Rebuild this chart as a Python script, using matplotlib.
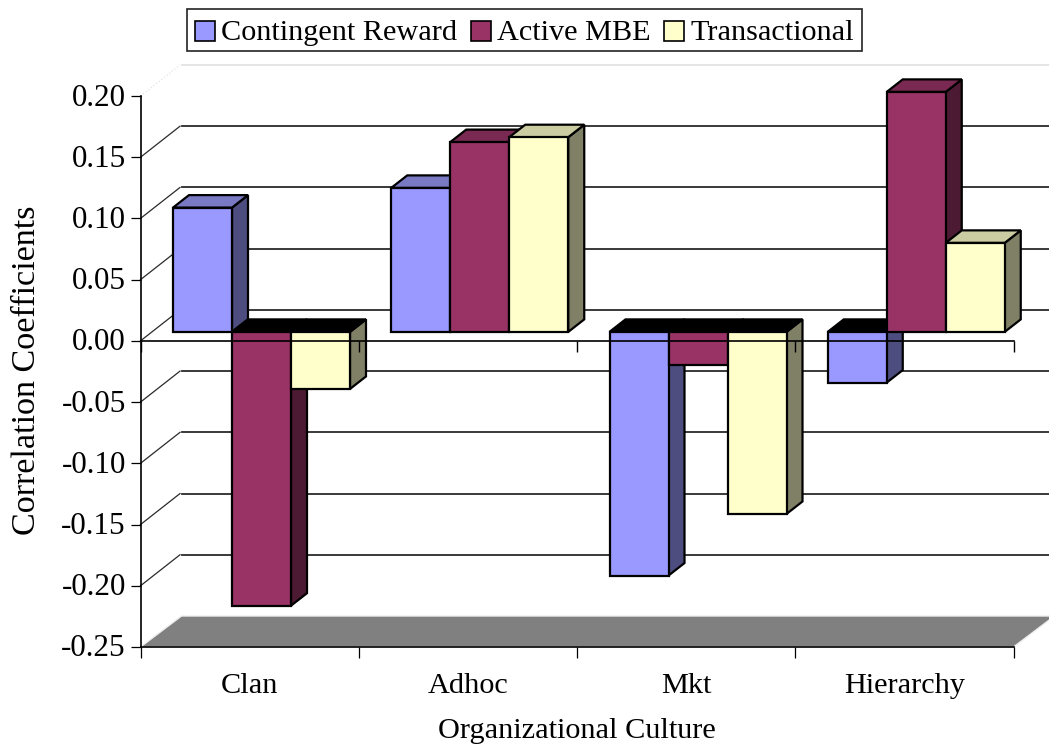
import matplotlib
matplotlib.use("Agg")
import matplotlib.pyplot as plt
from matplotlib.patches import Polygon, Patch
from matplotlib.transforms import ScaledTranslation

plt.rcParams['font.family'] = ['Liberation Serif', 'DejaVu Serif']

categories = ["Clan", "Adhoc", "Mkt", "Hierarchy"]
series_names = ["Contingent Reward", "Active MBE", "Transactional"]
contingent_reward = [0.1015, 0.1176, -0.199, -0.0414]
active_mbe = [-0.2236, 0.155, -0.0272, 0.196]
transactional = [-0.0466, 0.159, -0.1487, 0.0727]
y_ticks = [0.20, 0.15, 0.10, 0.05, 0.00, -0.05, -0.10, -0.15, -0.20, -0.25]

front_colors = ["#9999FF", "#993366", "#FFFFCC"]
side_colors = ["#4D4D80", "#4D1A33", "#808066"]
top_colors = ["#7A7AC4", "#7A2952", "#CCCCA3"]

W, H = 1049, 746
# front plane of the fake 3d box, in pixels
left, right, top, bottom = 140.5, 1013.5, 96.0, 647.0
fig = plt.figure(figsize=(W / 100, H / 100), dpi=100)
ax = fig.add_axes([left / W, 1 - bottom / H, (right - left) / W, (bottom - top) / H])
ax.set_xlim(0, 4)
ax.set_ylim(-0.25, 0.20)

# pixel sizes to data units
px_x = 4 / (right - left)
px_y = 0.45 / (bottom - top)
depth_x, depth_y = 41 * px_x, 31 * px_y
shift_y = 9 * px_y
bar_dx, bar_dy = 16 * px_x, 12.5 * px_y
bar_w = 59 * px_x
group_start = 32.5 * px_x

# floor
ax.add_patch(Polygon([(0, -0.25), (depth_x, -0.25 + depth_y), (4 + depth_x, -0.25 + depth_y), (4, -0.25)],
                     closed=True, facecolor="#808080", edgecolor="#EEEEEE", lw=1.0, clip_on=False, zorder=1))

# grid on the walls
for v in y_ticks[:-1]:
    col = "#E3E3E3" if v == 0.20 else "#2A2A2A"
    ls = ":" if v == 0.20 else "-"
    ax.plot([0, depth_x - 1.5 * px_x], [v, v + depth_y], color=col, lw=0.9, ls=ls, clip_on=False, zorder=1)
    ax.plot([depth_x, 4 + depth_x], [v + depth_y, v + depth_y], color=col, lw=1.3, clip_on=False, zorder=1)

# bars, left to right so the next one covers the side of the previous one
all_values = [contingent_reward, active_mbe, transactional]
z = 2
for c in range(len(categories)):
    for s in range(len(series_names)):
        val = all_values[s][c]
        x0 = c + group_start + s * bar_w
        x1 = x0 + bar_w
        y0 = shift_y
        y1 = val + shift_y
        hi = max(y0, y1)
        lo = min(y0, y1)
        top_col = top_colors[s] if val > 0 else "black"
        ax.add_patch(Polygon([(x1, lo), (x1 + bar_dx, lo + bar_dy), (x1 + bar_dx, hi + bar_dy), (x1, hi)],
                             closed=True, facecolor=side_colors[s], edgecolor="black", lw=1.6, clip_on=False, zorder=z))
        ax.add_patch(Polygon([(x0, hi), (x0 + bar_dx, hi + bar_dy), (x1 + bar_dx, hi + bar_dy), (x1, hi)],
                             closed=True, facecolor=top_col, edgecolor="black", lw=1.6, clip_on=False, zorder=z))
        ax.add_patch(Polygon([(x0, lo), (x0, hi), (x1, hi), (x1, lo)],
                             closed=True, facecolor=front_colors[s], edgecolor="black", lw=1.6, clip_on=False, zorder=z))
        z += 1

# zero line with its ticks, over the bars
ax.axhline(0, color="black", lw=1.2, zorder=50, clip_on=False)
ax.vlines(range(5), 0, -11 * px_y, color="black", lw=1.0, zorder=50, clip_on=False)

for side in ["top", "right"]:
    ax.spines[side].set_visible(False)
for side in ["left", "bottom"]:
    ax.spines[side].set_linewidth(1.2)
    ax.spines[side].set_zorder(50)

ax.set_yticks(y_ticks)
ax.set_yticklabels([f"{v:.2f}" for v in y_ticks], fontsize=22.4)
ax.tick_params(axis="y", length=7.5, width=0.9, pad=3)
for lab in ax.get_yticklabels():
    lab.set_transform(lab.get_transform() + ScaledTranslation(0, 1.5 / 100, fig.dpi_scale_trans))
ax.set_xticks(range(5))
ax.set_xticklabels([])
ax.tick_params(axis="x", which="major", length=8, width=0.9)
ax.set_xticks([0.5, 1.5, 2.5, 3.5], minor=True)
ax.set_xticklabels(categories, minor=True, fontsize=21.8)
ax.tick_params(axis="x", which="minor", length=0, pad=18.7)

fig.text(27 / W, 1 - 370 / H, "Correlation Coefficients", rotation=90, fontsize=24.6, ha="center", va="center")
fig.text(577 / W, 1 - 731 / H, "Organizational Culture", fontsize=21.8, ha="center", va="center")

handles = [Patch(facecolor=front_colors[i], edgecolor="black", lw=1.2) for i in range(3)]
leg = fig.legend(handles, series_names, loc="center", bbox_to_anchor=(524.5 / W, 1 - 30 / H), ncol=3,
                 fontsize=21.8, frameon=True, fancybox=False, framealpha=1, edgecolor="#222222",
                 handlelength=0.66, handleheight=0.66, handletextpad=0.22, columnspacing=0.43,
                 borderpad=0.25, borderaxespad=0)
leg.get_frame().set_linewidth(1.2)
for t in leg.get_texts():
    t.set_y(-3)
# square sits too high next to the lowered text
for h in leg.legend_handles:
    h.set_y(h.get_y() - 3)

fig.savefig("out.png", dpi=100)
